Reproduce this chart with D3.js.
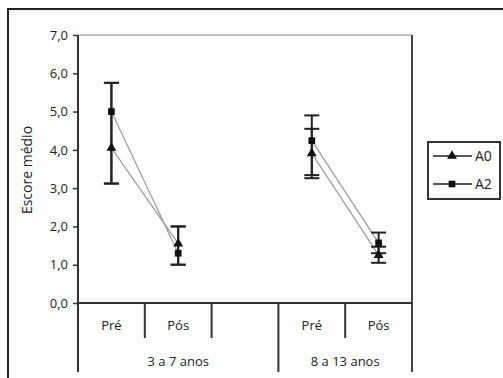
<!DOCTYPE html>
<html>
<head>
<meta charset="utf-8">
<script src="https://cdn.jsdelivr.net/npm/d3@7"></script>
<style>
  html, body { margin: 0; padding: 0; background: #fff; }
  #chart { width: 503px; height: 378px; }
  text { font-family: "Open Sans", sans-serif; fill: #222; }
</style>
</head>
<body>
<div id="chart"></div>
<script>
// slots on the category axis (the third one is an empty spacer)
var slots = ['pre1', 'pos1', 'gap', 'pre2', 'pos2'];
var slotLabels = ['Pré', 'Pós', '', 'Pré', 'Pós'];
var groups = [
    { label: '3 a 7 anos', from: 0, to: 3 },
    { label: '8 a 13 anos', from: 3, to: 5 }
];
var yTicks = [0, 1, 2, 3, 4, 5, 6, 7];

// means per slot (null = no value)
var a0 = [4.05, 1.55, null, 3.91, 1.25];
var a2 = [5.0, 1.3, null, 4.24, 1.57];
// error bars: low / high
var a0Low = [3.12, 1.0, null, 3.26, 1.05];
var a0High = [5.75, 2.0, null, 4.55, 1.47];
var a2Low = [3.12, 1.0, null, 3.34, 1.3];
var a2High = [5.75, 2.0, null, 4.9, 1.84];

var series = [
    { name: 'A0', values: a0, low: a0Low, high: a0High, marker: 'tri' },
    { name: 'A2', values: a2, low: a2Low, high: a2High, marker: 'sq' }
];

var margin = { top: 35, left: 78, right: 91, bottom: 75 };
var W = 503, H = 378;

var svg = d3.select('#chart').append('svg')
    .attr('width', W)
    .attr('height', H);

// outer frame (only top and left show inside the picture)
svg.append('rect')
    .attr('x', 8).attr('y', 9)
    .attr('width', 520).attr('height', 400)
    .style('fill', '#fff')
    .style('stroke', '#222')
    .style('stroke-width', 2);

var x = d3.scaleBand()
    .domain(slots)
    .range([margin.left, W - margin.right])
    .padding(0);

var y = d3.scaleLinear()
    .domain([0, 7])
    .range([H - margin.bottom, margin.top]);

var x0 = x.range()[0], x1 = x.range()[1];

// plot area border: top thin grey, right dark
svg.append('line')
    .attr('x1', x0).attr('x2', x1)
    .attr('y1', y(7)).attr('y2', y(7))
    .style('stroke', '#888').style('stroke-width', 1);
svg.append('line')
    .attr('x1', x1).attr('x2', x1)
    .attr('y1', y(7)).attr('y2', 372)
    .style('stroke', '#444').style('stroke-width', 2);

// y axis
var yAxis = d3.axisLeft(y)
    .tickValues(yTicks)
    .tickSize(5)
    .tickPadding(5)
    .tickFormat(function (d) { return d3.format('.1f')(d).replace('.', ','); });

var gy = svg.append('g')
    .attr('transform', 'translate(' + x0 + ',0)')
    .call(yAxis);
gy.select('.domain').remove();
gy.selectAll('line').style('stroke', '#333').style('stroke-width', 1.5);
gy.selectAll('text').style('font-size', '13px').style('fill', '#222')
    .style('font-family', '"Open Sans", sans-serif');

svg.append('line')
    .attr('x1', x0).attr('x2', x0)
    .attr('y1', y(7)).attr('y2', 372)
    .style('stroke', '#333').style('stroke-width', 2);

// x axis baseline
svg.append('line')
    .attr('x1', x0).attr('x2', x1)
    .attr('y1', y(0)).attr('y2', y(0))
    .style('stroke', '#333').style('stroke-width', 2);

// category separators: short ones inside a group, long ones between groups
var groupEdges = groups.map(function (g) { return g.from; });
slots.forEach(function (s, i) {
    if (i === 0) return;
    var long = groupEdges.indexOf(i) >= 0;
    svg.append('line')
        .attr('x1', x(s)).attr('x2', x(s))
        .attr('y1', y(0)).attr('y2', long ? 372 : 338)
        .style('stroke', '#333').style('stroke-width', 2);
});

slots.forEach(function (s, i) {
    svg.append('text')
        .attr('x', x(s) + x.bandwidth() / 2)
        .attr('y', 330)
        .attr('text-anchor', 'middle')
        .style('font-size', '13px')
        .text(slotLabels[i]);
});

groups.forEach(function (g) {
    var gx0 = x(slots[g.from]);
    var gx1 = g.to < slots.length ? x(slots[g.to]) : x1;
    svg.append('text')
        .attr('x', (gx0 + gx1) / 2)
        .attr('y', 366)
        .attr('text-anchor', 'middle')
        .style('font-size', '13px')
        .text(g.label);
});

// y title
svg.append('text')
    .attr('transform', 'translate(32,' + 170 + ') rotate(-90)')
    .attr('text-anchor', 'middle')
    .style('font-size', '14px')
    .text('Escore médio');

function cx(i) { return x(slots[i]) + x.bandwidth() / 2; }

// connecting lines (broken where there is no value)
var line = d3.line()
    .defined(function (d) { return d != null; })
    .x(function (d, i) { return cx(i); })
    .y(function (d) { return y(d); });

series.forEach(function (s) {
    svg.append('path')
        .attr('d', line(s.values))
        .style('fill', 'none')
        .style('stroke', '#9a9a9a')
        .style('stroke-width', 1.2);
});

// error bars
series.forEach(function (s) {
    s.values.forEach(function (v, i) {
        if (v == null) return;
        var xx = cx(i);
        var g = svg.append('g').style('stroke', '#222').style('stroke-width', 2);
        g.append('line').attr('x1', xx).attr('x2', xx)
            .attr('y1', y(s.low[i])).attr('y2', y(s.high[i]));
        [s.low[i], s.high[i]].forEach(function (e) {
            g.append('line').attr('x1', xx - 7.5).attr('x2', xx + 7.5)
                .attr('y1', y(e)).attr('y2', y(e));
        });
    });
});

var tri = d3.symbol().type(d3.symbolTriangle).size(42);
var sq = d3.symbol().type(d3.symbolSquare).size(45);

function drawMarker(sel, kind, px, py) {
    sel.append('path')
        .attr('d', kind === 'tri' ? tri() : sq())
        .attr('transform', 'translate(' + px + ',' + py + ')')
        .style('fill', '#111');
}

series.forEach(function (s) {
    s.values.forEach(function (v, i) {
        if (v == null) return;
        drawMarker(svg, s.marker, cx(i), y(v));
    });
});

// legend
var lg = svg.append('g');
lg.append('rect')
    .attr('x', 428).attr('y', 142)
    .attr('width', 72).attr('height', 57)
    .style('fill', '#fff')
    .style('stroke', '#333')
    .style('stroke-width', 2);

series.forEach(function (s, i) {
    var ly = 156 + i * 28;
    lg.append('line')
        .attr('x1', 433).attr('x2', 472)
        .attr('y1', ly).attr('y2', ly)
        .style('stroke', '#222').style('stroke-width', 1.5);
    drawMarker(lg, s.marker, 452, ly);
    lg.append('text')
        .attr('x', 475).attr('y', ly + 5)
        .style('font-size', '14px')
        .text(s.name);
});
</script>
</body>
</html>
